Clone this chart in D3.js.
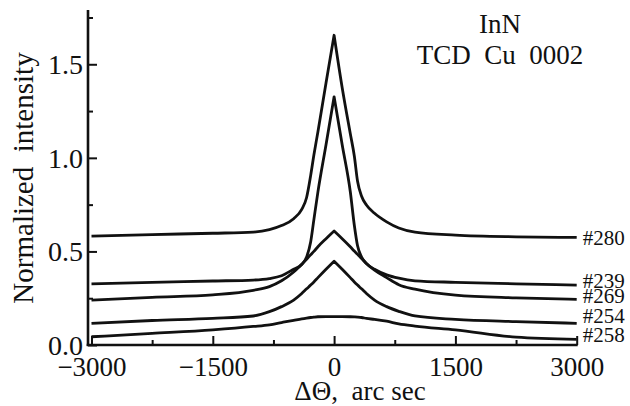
<!DOCTYPE html>
<html>
<head>
<meta charset="utf-8">
<script src="https://cdn.jsdelivr.net/npm/d3@7/dist/d3.min.js"></script>
<style>
  html, body { margin: 0; padding: 0; background: #fff; }
  svg { display: block; }
  text { font-family: "Liberation Serif", "Times New Roman", serif; fill: #111; }
</style>
</head>
<body>
<svg id="chart" width="630" height="406"></svg>
<script>
// ---- data ----
const angles = [-3000, -2250, -1500, -1000, -800, -650, -500, -400, -340, -290, -250, -200, -100, 0, 100, 200, 250, 290, 340, 400, 500, 650, 800, 1000, 1500, 2250, 3000];
const s280 = [0.582, 0.590, 0.597, 0.603, 0.616, 0.638, 0.675, 0.725, 0.788, 0.905, 1.015, 1.140, 1.400, 1.655, 1.375, 1.130, 1.010, 0.875, 0.795, 0.748, 0.704, 0.658, 0.625, 0.603, 0.587, 0.578, 0.575];
const s239 = [0.327, 0.335, 0.342, 0.347, 0.355, 0.370, 0.405, 0.430, 0.470, 0.550, 0.670, 0.818, 1.070, 1.326, 1.070, 0.820, 0.640, 0.530, 0.470, 0.435, 0.405, 0.375, 0.357, 0.343, 0.335, 0.327, 0.320];
const s269 = [0.240, 0.255, 0.268, 0.292, 0.312, 0.343, 0.390, 0.432, 0.458, 0.482, 0.500, 0.525, 0.568, 0.609, 0.568, 0.525, 0.502, 0.485, 0.462, 0.436, 0.400, 0.360, 0.322, 0.298, 0.266, 0.252, 0.244];
const s254 = [0.116, 0.131, 0.142, 0.155, 0.178, 0.205, 0.240, 0.275, 0.300, 0.320, 0.337, 0.360, 0.405, 0.448, 0.405, 0.360, 0.337, 0.320, 0.300, 0.275, 0.240, 0.205, 0.180, 0.155, 0.137, 0.125, 0.116];
const s258 = [0.044, 0.062, 0.081, 0.099, 0.108, 0.120, 0.132, 0.140, 0.144, 0.147, 0.149, 0.151, 0.152, 0.152, 0.152, 0.151, 0.150, 0.149, 0.147, 0.142, 0.137, 0.127, 0.113, 0.101, 0.081, 0.042, 0.030];
const seriesNames = ["#280", "#239", "#269", "#254", "#258"];
const seriesValues = [s280, s239, s269, s254, s258];
const labelValues = [0.57, 0.342, 0.262, 0.155, 0.056];
const xTicksMajor = [-3000, -1500, 0, 1500, 3000];
const xTicksMinor = [-2250, -750, 750, 2250];
const yTicksMajor = [0.0, 0.5, 1.0, 1.5];
const yTicksMinor = [0.25, 0.75, 1.25, 1.75];
const titleLines = ["InN", "TCD  Cu  0002"];
const xTitle = "\u0394\u0398,  arc sec";
const yTitle = "Normalized  intensity";

// ---- layout ----
const svg = d3.select("#chart");
const x = d3.scaleLinear().domain([-3000, 3000]).range([91.5, 576.7]);
const y = d3.scaleLinear().domain([0, 1.79]).range([345, 10]);
const axisLeftX = 88;

const g = svg.append("g");

// y axis
const yAxisMaj = d3.axisLeft(y).tickValues(yTicksMajor).tickSize(-9).tickPadding(5)
  .tickFormat(d3.format(".1f"));
const yAxisMin = d3.axisLeft(y).tickValues(yTicksMinor).tickSize(-5).tickFormat("");
const gy = g.append("g").attr("transform", `translate(${axisLeftX},0)`);
gy.call(yAxisMaj);
gy.append("g").call(yAxisMin);
gy.selectAll(".domain").remove();
gy.selectAll("line").attr("stroke", "#111").attr("stroke-width", 2);
gy.selectAll("text").attr("font-size", 28).attr("font-family", "Liberation Serif")
  .attr("dy", null).attr("dominant-baseline", "central").attr("fill", "#111");
gy.append("line").attr("x1", 0).attr("x2", 0).attr("y1", y.range()[0] + 1).attr("y2", y.range()[1])
  .attr("stroke", "#111").attr("stroke-width", 2.6);

// x axis
const xAxisMaj = d3.axisBottom(x).tickValues(xTicksMajor).tickSize(-9).tickPadding(12)
  .tickFormat(d => d < 0 ? "\u2212" + Math.abs(d) : d);
const xAxisMin = d3.axisBottom(x).tickValues(xTicksMinor).tickSize(-5).tickFormat("");
const gx = g.append("g").attr("transform", `translate(0,${y(0)})`);
gx.call(xAxisMaj);
gx.append("g").call(xAxisMin);
gx.selectAll(".domain").remove();
gx.selectAll("line").attr("stroke", "#111").attr("stroke-width", 2);
gx.selectAll("text").attr("font-size", 27).attr("font-family", "Liberation Serif")
  .attr("dy", "0.71em").attr("fill", "#111");
gx.append("line").attr("x1", axisLeftX - 1.3).attr("x2", x.range()[1] + 1).attr("y1", 0).attr("y2", 0)
  .attr("stroke", "#111").attr("stroke-width", 2.6);

// curves: each half is drawn monotone so the peak keeps its cusp
const line = d3.line()
  .x(d => x(d[0]))
  .y(d => y(d[1]))
  .curve(d3.curveMonotoneX);
function curvePath(vals) {
  const pts = angles.map((a, i) => [a, vals[i]]);
  const left = pts.filter(p => p[0] <= 0);
  const right = pts.filter(p => p[0] >= 0);
  return line(left) + line(right).replace(/^M/, "L");
}
g.append("g").selectAll("path").data(seriesValues).join("path")
  .attr("d", d => curvePath(d))
  .attr("fill", "none")
  .attr("stroke", "#111")
  .attr("stroke-width", 2.8)
  .attr("stroke-linejoin", "round")
  .attr("stroke-linecap", "butt");

// series labels
g.append("g").selectAll("text").data(seriesNames).join("text")
  .attr("x", x(3000) + 6)
  .attr("y", (d, i) => y(labelValues[i]))
  .attr("dominant-baseline", "central")
  .attr("font-size", 21)
  .text(d => d);

// title
g.append("g").selectAll("text").data(titleLines).join("text")
  .attr("x", 500)
  .attr("y", (d, i) => 33 + i * 31)
  .attr("text-anchor", "middle")
  .attr("font-size", 27)
  .style("white-space", "pre")
  .text(d => d);

// axis titles
g.append("text")
  .attr("x", 360).attr("y", 400)
  .attr("text-anchor", "middle")
  .attr("font-size", 27)
  .style("white-space", "pre")
  .text(xTitle);
g.append("text")
  .attr("transform", "translate(33,178) rotate(-90)")
  .attr("text-anchor", "middle")
  .attr("font-size", 29)
  .style("white-space", "pre")
  .text(yTitle);
</script>
</body>
</html>
